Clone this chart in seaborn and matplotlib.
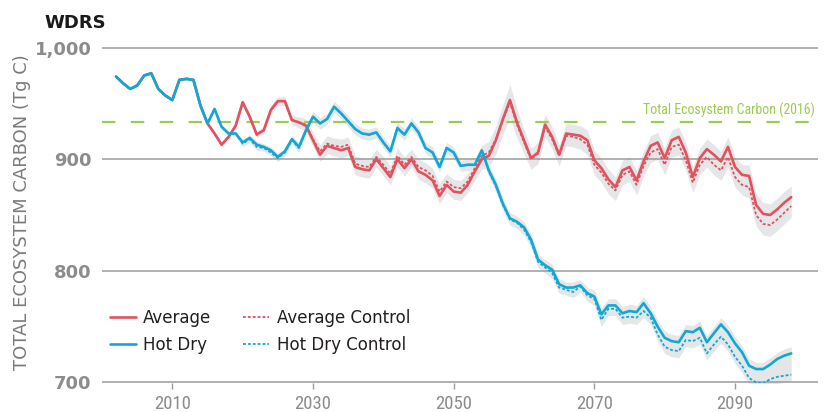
import numpy as np
import pandas as pd
import seaborn as sns
import matplotlib
matplotlib.use("Agg")
import matplotlib.pyplot as plt
from matplotlib.lines import Line2D
from matplotlib import font_manager

# --- DATA ---
years = np.arange(2002, 2099)

average = [
    974, 968, 963, 966, 975, 977, 963, 957, 953, 971,
    972, 971, 948, 932, 923, 913, 920, 930, 951, 938,
    922, 926, 944, 952, 952, 935, 933, 930, 917, 904,
    912, 910, 908, 910, 893, 891, 890, 900, 892, 884,
    900, 892, 900, 889, 886, 881, 867, 877, 871, 870,
    877, 889, 900, 903, 917, 936, 953, 933, 917, 901,
    906, 931, 920, 904, 923, 922, 921, 917, 899, 892,
    882, 875, 890, 893, 881, 898, 912, 915, 901, 917,
    920, 906, 884, 901, 909, 904, 898, 911, 893, 886,
    885, 859, 851, 850, 855, 861, 866,
]
average_control = [
    974, 968, 963, 966, 975, 977, 963, 957, 953, 971,
    972, 971, 948, 932, 923, 913, 920, 930, 951, 938,
    922, 926, 944, 952, 952, 935, 933, 931, 918, 907,
    914, 912, 911, 913, 896, 894, 893, 902, 895, 887,
    903, 895, 902, 893, 890, 885, 871, 880, 875, 874,
    880, 892, 903, 906, 918, 935, 951, 931, 915, 900,
    905, 929, 918, 903, 921, 920, 918, 913, 895, 888,
    878, 872, 886, 889, 877, 894, 906, 909, 895, 911,
    913, 899, 879, 895, 902, 895, 890, 902, 884, 877,
    875, 850, 842, 841, 846, 852, 858,
]
hot_dry = [
    974, 968, 963, 966, 975, 977, 963, 957, 953, 971,
    972, 971, 948, 932, 945, 929, 923, 923, 915, 919,
    913, 911, 908, 902, 907, 918, 911, 926, 938, 932,
    936, 947, 941, 934, 927, 923, 922, 924, 915, 907,
    928, 922, 932, 924, 910, 906, 893, 910, 906, 894,
    895, 895, 908, 890, 877, 860, 847, 844, 839, 828,
    810, 805, 801, 788, 785, 785, 787, 780, 777, 761,
    769, 769, 762, 764, 763, 771, 762, 750, 740, 737,
    736, 746, 745, 749, 736, 744, 752, 745, 735, 727,
    715, 712, 712, 716, 721, 724, 726,
]
hot_dry_control = [
    974, 968, 963, 966, 975, 977, 963, 957, 953, 971,
    972, 971, 948, 932, 945, 929, 923, 923, 914, 918,
    911, 910, 906, 901, 906, 917, 910, 925, 938, 932,
    936, 947, 941, 934, 927, 923, 922, 924, 915, 907,
    928, 922, 932, 924, 910, 906, 893, 910, 906, 894,
    895, 895, 907, 889, 876, 859, 846, 843, 837, 826,
    808, 803, 798, 785, 783, 781, 786, 778, 775, 756,
    766, 766, 758, 759, 758, 764, 758, 743, 732, 729,
    728, 738, 737, 740, 726, 734, 741, 734, 723, 715,
    704, 700, 699, 703, 705, 706, 707,
]
# margin of the grey range band around each scenario
average_spread = [
    1, 1, 1, 1, 1, 1, 1, 1, 1, 1,
    1, 2, 2, 2, 2, 2, 3, 3, 3, 3,
    3, 3, 4, 4, 4, 4, 5, 5, 6, 6,
    7, 7, 7, 7, 7, 7, 7, 7, 7, 7,
    7, 7, 7, 7, 7, 7, 7, 7, 7, 7,
    7, 8, 9, 10, 12, 13, 14, 12, 10, 9,
    9, 9, 9, 9, 9, 9, 9, 9, 9, 9,
    9, 9, 9, 9, 9, 9, 9, 9, 9, 9,
    9, 9, 9, 9, 9, 9, 9, 9, 9, 9,
    10, 10, 10, 10, 10, 10, 10,
]
hot_dry_spread = [
    1, 1, 1, 1, 1, 1, 1, 1, 1, 1,
    1, 2, 2, 2, 2, 2, 2, 2, 3, 3,
    3, 3, 3, 3, 3, 3, 4, 4, 5, 5,
    5, 5, 5, 5, 5, 5, 5, 5, 5, 5,
    5, 5, 5, 5, 5, 5, 5, 5, 5, 5,
    5, 5, 5, 5, 5, 5, 5, 5, 5, 5,
    5, 5, 5, 5, 5, 5, 5, 5, 6, 6,
    6, 6, 6, 6, 6, 6, 6, 6, 6, 6,
    6, 6, 6, 6, 6, 6, 6, 6, 6, 6,
    6, 6, 6, 6, 6, 6, 6,
]
total_carbon_2016 = 933

# --- STYLE ---
RED = "#e0525f"
BLUE = "#13a8d4"
GREEN = "#9dcb52"
BAND = "#e5e6e7"
GRID = "#9b9b9b"
TICK_GREY = "#8c8c8e"

sns.set_style("white")
plt.rcParams["font.family"] = ["DejaVu Sans"]


def condensed_font():
    # look for a narrow face among the installed families
    for fam in ["Roboto Condensed", "Liberation Sans Narrow", "Open Sans Condensed",
                "Noto Sans", "DejaVu Sans", "Open Sans", "Roboto"]:
        try:
            path = font_manager.findfont(
                font_manager.FontProperties(family=fam, stretch="condensed"),
                fallback_to_default=False)
        except ValueError:
            continue
        name = path.lower()
        if "condensed" in name or "narrow" in name:
            return {"fname": path}, True
    return {"family": "DejaVu Sans"}, False


NARROW, found_narrow = condensed_font()
XTICK_SIZE = 13.5 if found_narrow else 11
NOTE_SIZE = 10 if found_narrow else 7.5

df = pd.DataFrame({
    "year": years,
    "average": average,
    "average_control": average_control,
    "hot_dry": hot_dry,
    "hot_dry_control": hot_dry_control,
    "average_spread": average_spread,
    "hot_dry_spread": hot_dry_spread,
})

fig = plt.figure(figsize=(8.27, 4.12), dpi=100)
ax = fig.add_axes([102 / 827, 1 - 383 / 412, (818 - 102) / 827, (383 - 47) / 412])

# grey ranges
for main, ctrl, spread in [("average", "average_control", "average_spread"),
                           ("hot_dry", "hot_dry_control", "hot_dry_spread")]:
    lo = np.minimum(df[main], df[ctrl]) - df[spread]
    hi = np.maximum(df[main], df[ctrl]) + df[spread]
    ax.fill_between(df["year"], lo, hi, color=BAND, lw=0, zorder=1)

# horizontal grid
for yv in [700, 800, 900, 1000]:
    ax.axhline(yv, color=GRID, lw=1.1, zorder=1.5)

ax.axhline(total_carbon_2016, color=GREEN, lw=1.6, dashes=(6, 7), zorder=2)
note_font = font_manager.FontProperties(size=NOTE_SIZE, **NARROW)
ax.text(2101.3, total_carbon_2016 + 4, "Total Ecosystem Carbon (2016)", color=GREEN,
        fontproperties=note_font, ha="right", va="bottom")

dotted = (0, (1.6, 1.1))
sns.lineplot(data=df, x="year", y="average_control", color=RED, lw=1.3,
             linestyle=dotted, ax=ax, estimator=None, errorbar=None, zorder=3)
sns.lineplot(data=df, x="year", y="average", color=RED, lw=1.9,
             ax=ax, estimator=None, errorbar=None, zorder=3.5)
sns.lineplot(data=df, x="year", y="hot_dry_control", color=BLUE, lw=1.3,
             linestyle=dotted, ax=ax, estimator=None, errorbar=None, zorder=4)
sns.lineplot(data=df, x="year", y="hot_dry", color=BLUE, lw=1.9,
             ax=ax, estimator=None, errorbar=None, zorder=4.5)

ax.set_xlim(2000, 2101.8)
ax.set_ylim(699.5, 1000.5)
ax.set_xticks([2010, 2030, 2050, 2070, 2090])
ax.set_yticks([700, 800, 900, 1000])
ax.set_yticklabels(["700", "800", "900", "1,000"])
ax.set_xlabel("")
ax.set_ylabel("")
for s in ax.spines.values():
    s.set_visible(False)
ax.tick_params(axis="y", length=0, pad=7.5, labelsize=13, labelcolor=TICK_GREY)
ax.tick_params(axis="x", length=4, width=1, color=GRID, pad=4.5,
               labelcolor=TICK_GREY, bottom=True)
for lab in ax.get_yticklabels():
    lab.set_fontweight("bold")
xtick_font = font_manager.FontProperties(size=XTICK_SIZE, **NARROW)
for lab in ax.get_xticklabels():
    lab.set_fontproperties(xtick_font)

handles = [
    Line2D([], [], color=RED, lw=1.9),
    Line2D([], [], color=BLUE, lw=1.9),
    Line2D([], [], color=RED, lw=1.3, linestyle=dotted),
    Line2D([], [], color=BLUE, lw=1.3, linestyle=dotted),
]
labels = ["Average", "Hot Dry", "Average Control", "Hot Dry Control"]
leg = ax.legend(handles, labels, ncol=2, frameon=False, fontsize=12,
                loc="upper left", bbox_to_anchor=(110 / 827, 1 - 309 / 412),
                bbox_transform=fig.transFigure, borderaxespad=0, borderpad=0,
                handlelength=1.55, handletextpad=0.45, columnspacing=1.9,
                labelspacing=0.55)
for t in leg.get_texts():
    t.set_color("#231f20")

fig.text(44 / 827, 1 - 28 / 412, "WDRS", fontsize=13, fontweight="bold",
         color="#1a1a1a", ha="left", va="baseline")
fig.text(22 / 827, 1 - 212 / 412, "TOTAL ECOSYSTEM CARBON (Tg C)", fontsize=13,
         color="#7b7b7d", rotation=90, ha="center", va="center")

fig.savefig("out.png", dpi=100)
